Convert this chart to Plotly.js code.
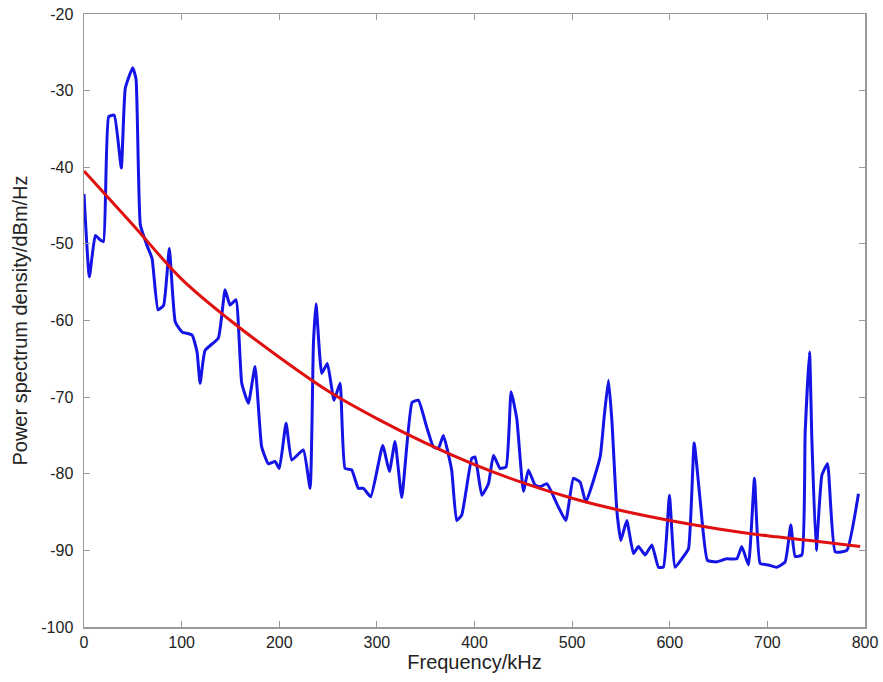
<!DOCTYPE html>
<html>
<head>
<meta charset="utf-8">
<script src="https://cdn.plot.ly/plotly-3.0.1.min.js"></script>
<style>
html,body{margin:0;padding:0;background:#fff;}
#chart{width:883px;height:682px;}
</style>
</head>
<body>
<div id="chart"></div>
<script>
// Measured power spectrum (blue)
var freqMeasured = [0,5.5,11.6,16.7,20,25.3,31,38.2,42.3,49.9,53.3,57.7,64.5,69.7,75.8,81.6,87.4,93.5,100.4,110.7,115.8,118.9,124,137.6,144.5,149.6,155.7,161.6,168.4,175.2,182,188.8,195.7,200.1,207,212.8,224.7,231.6,235,237.7,243.5,249.3,256.1,262.3,267.4,274.2,281,286.2,293.7,306,312.8,318.6,325.5,336,342.5,351,357.9,363,368.1,376.6,381.7,386.9,397.2,400.6,407.5,414.3,419.4,426.2,432.4,437.5,443.3,450.1,455.2,462.1,467.2,474.1,484.3,493.5,501.3,508.2,514,528.7,532.8,537.2,540.7,545.8,549.9,556,562.8,568,574.8,581.7,588.4,593.5,599.7,605.5,612.4,619.2,625,631.1,638.6,648.2,658.4,668.7,673.8,680.6,686.8,692.6,701.1,709.7,718.2,724,728.5,735.3,738.7,743.2,745.6,750,755.8,761.6,769.5,781.4,793.3];
var psdMeasured = [-43.5,-54.3,-48.9,-49.5,-49.7,-33.4,-33.2,-40.1,-29.7,-27.0,-28.5,-47.5,-50.2,-51.9,-58.6,-58.0,-50.6,-60.2,-61.5,-61.9,-64.1,-68.2,-63.9,-62.3,-56.0,-58.0,-57.3,-68.2,-70.8,-66.0,-76.5,-78.7,-78.4,-79.3,-73.4,-78.2,-76.9,-81.9,-63.0,-57.8,-66.9,-65.6,-70.4,-68.2,-79.3,-79.5,-81.9,-81.9,-83.0,-76.3,-79.7,-75.8,-83.1,-70.7,-70.4,-73.9,-76.5,-76.7,-75.0,-79.5,-86.1,-85.4,-78.0,-77.8,-82.8,-81.3,-77.6,-79.3,-79.1,-69.3,-72.8,-82.3,-79.5,-81.5,-81.7,-81.3,-83.9,-86.1,-80.6,-81.1,-83.7,-77.8,-72.6,-67.8,-73.0,-84.8,-88.7,-86.1,-90.4,-89.5,-90.6,-89.3,-92.2,-92.2,-82.8,-92.2,-91.1,-89.8,-76.0,-83.4,-91.3,-91.5,-91.1,-91.1,-89.5,-91.9,-80.6,-91.7,-91.9,-92.2,-91.5,-86.7,-90.8,-90.6,-74.7,-64.1,-75.6,-90.0,-80.2,-78.7,-90.2,-90.0,-82.6];

// Fitted trend (red)
var freqFit = [0,50,100,150,200,250,300,350,400,450,500,550,600,650,700,750,795];
var psdFit = [-40.5,-47.5,-54.6,-60.0,-64.8,-69.2,-72.8,-76.0,-78.8,-81.2,-83.2,-84.8,-86.1,-87.2,-88.1,-88.8,-89.5];

var xTicks = [0,100,200,300,400,500,600,700,800];
var yTicks = [-100,-90,-80,-70,-60,-50,-40,-30,-20];

var traces = [
  {x: freqMeasured, y: psdMeasured, type: 'scatter', mode: 'lines',
   line: {color: '#1414e6', width: 3, shape: 'spline', smoothing: 0.4}, hoverinfo: 'x+y'},
  {x: freqFit, y: psdFit, type: 'scatter', mode: 'lines',
   line: {color: '#e01010', width: 3, shape: 'spline'}, hoverinfo: 'x+y'}
];

var fontFam = 'Liberation Sans, Arial, sans-serif';
var axisCommon = {
  showgrid: false, zeroline: false, showline: true, mirror: 'ticks',
  linecolor: '#9a9a9a', linewidth: 1.5, ticks: 'inside', ticklen: 6,
  tickcolor: '#9a9a9a', tickwidth: 1,
  tickfont: {family: fontFam, size: 16, color: '#222'}
};

var layout = {
  width: 883, height: 682,
  margin: {l: 84, r: 18, t: 14, b: 55},
  paper_bgcolor: '#fff', plot_bgcolor: '#fff',
  showlegend: false,
  xaxis: Object.assign({}, axisCommon, {
    range: [0, 800], tickvals: xTicks, ticktext: xTicks.map(String),
    title: {text: 'Frequency/kHz', standoff: 2,
            font: {family: fontFam, size: 20, color: '#222'}}
  }),
  yaxis: Object.assign({}, axisCommon, {
    range: [-100, -20], tickvals: yTicks, ticktext: yTicks.map(String),
    ticklabelstandoff: 6,
    title: {text: 'Power spectrum density/dBm/Hz', standoff: 8,
            font: {family: fontFam, size: 20, color: '#222'}}
  })
};

Plotly.newPlot('chart', traces, layout, {displayModeBar: false, staticPlot: true});
</script>
</body>
</html>
